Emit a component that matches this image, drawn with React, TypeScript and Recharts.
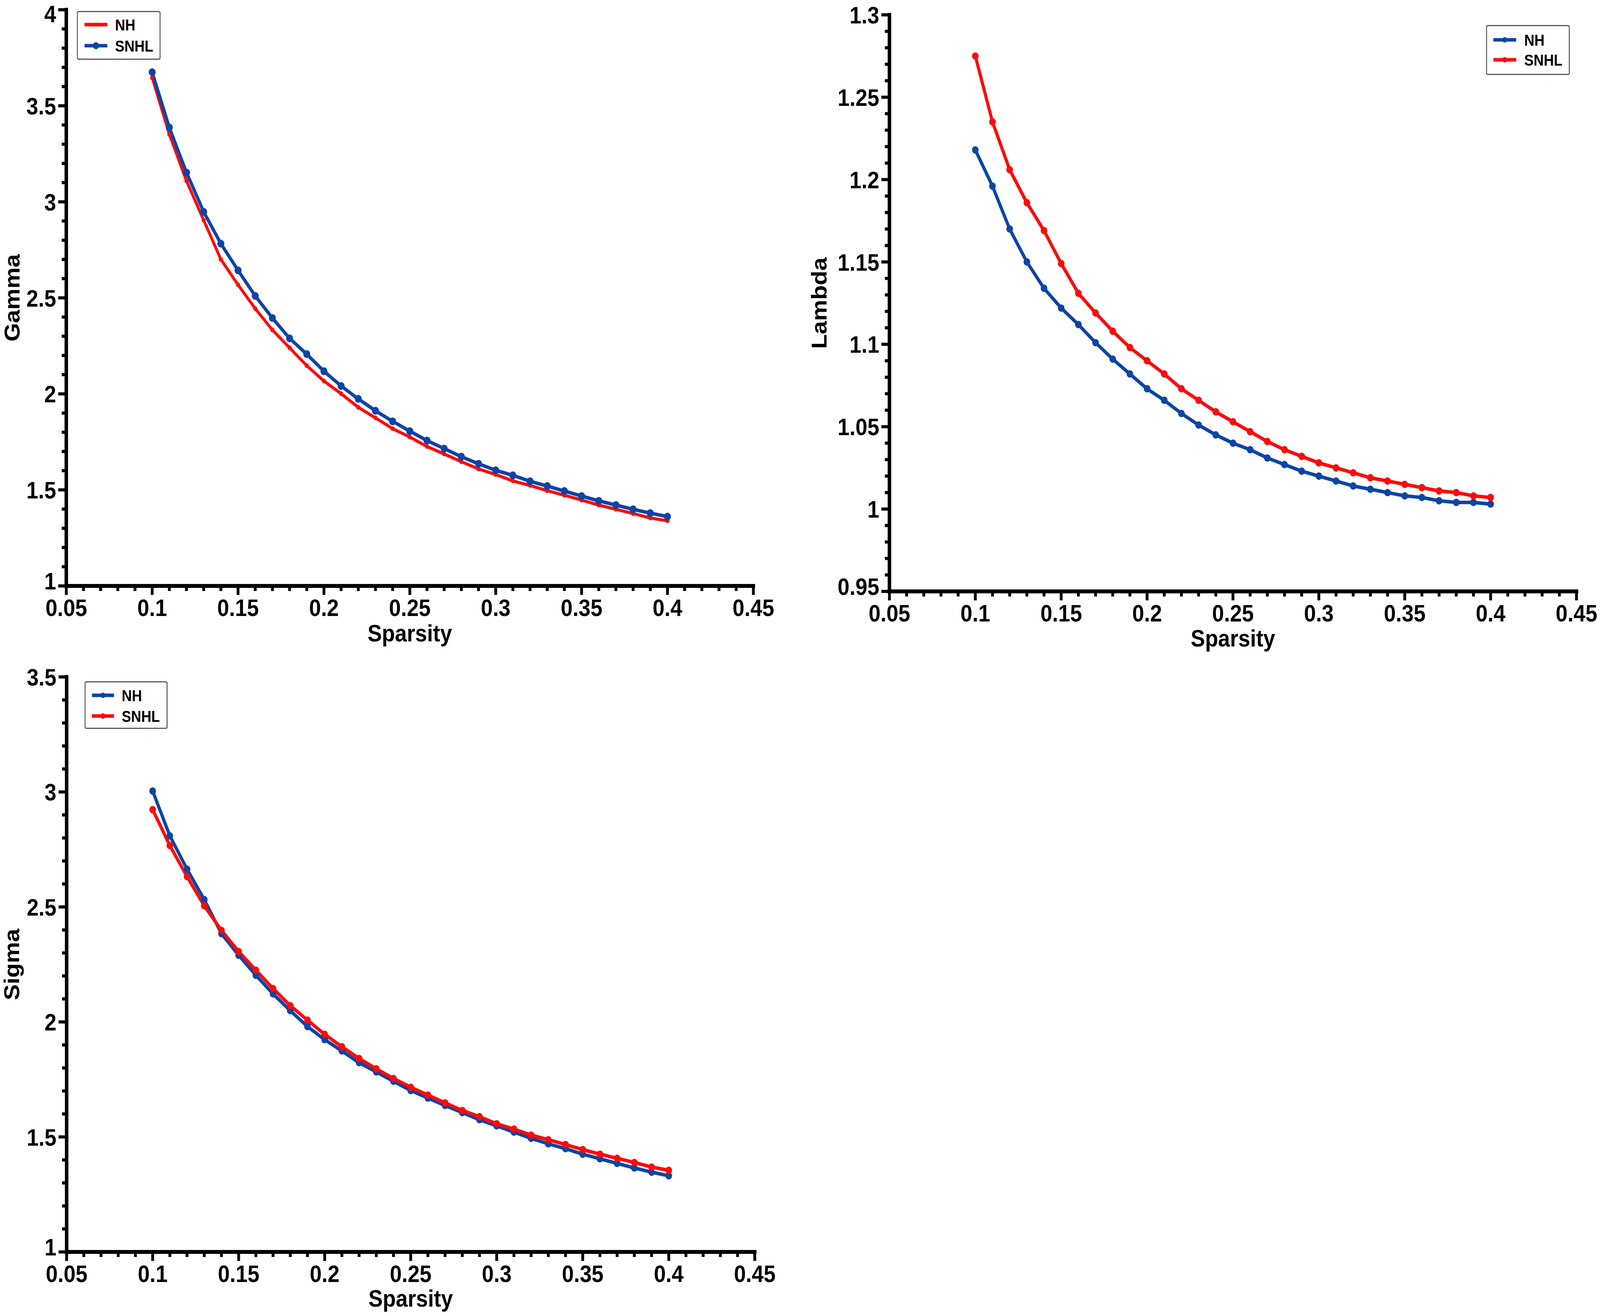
import React from 'react';
import { LineChart, Line, XAxis, YAxis, Legend } from 'recharts';

// sparsity levels (x values shared by every panel)
const sparsity = [
  0.1, 0.11, 0.12, 0.13, 0.14, 0.15, 0.16, 0.17, 0.18, 0.19, 0.2, 0.21, 0.22, 0.23, 0.24, 0.25,
  0.26, 0.27, 0.28, 0.29, 0.3, 0.31, 0.32, 0.33, 0.34, 0.35, 0.36, 0.37, 0.38, 0.39, 0.4,
];

const gammaNH = [
  3.646, 3.351, 3.108, 2.904, 2.7, 2.568, 2.444, 2.333, 2.24, 2.147, 2.067, 2.001, 1.93, 1.875, 1.819,
  1.775, 1.726, 1.687, 1.647, 1.609, 1.58, 1.547, 1.523, 1.496, 1.472, 1.447, 1.421, 1.399, 1.377,
  1.354, 1.339,
];
const gammaSNHL = [
  3.675, 3.387, 3.152, 2.948, 2.782, 2.643, 2.51, 2.395, 2.289, 2.207, 2.118, 2.041, 1.974, 1.912,
  1.857, 1.806, 1.757, 1.715, 1.673, 1.636, 1.602, 1.576, 1.545, 1.52, 1.494, 1.468, 1.443, 1.421,
  1.399, 1.379, 1.361,
];

const lambdaNH = [
  1.218, 1.196, 1.17, 1.15, 1.134, 1.122, 1.112, 1.101, 1.091, 1.082, 1.073, 1.066, 1.058, 1.051,
  1.045, 1.04, 1.036, 1.031, 1.027, 1.023, 1.02, 1.017, 1.014, 1.012, 1.01, 1.008, 1.007, 1.005,
  1.004, 1.004, 1.003,
];
const lambdaSNHL = [
  1.275, 1.235, 1.206, 1.186, 1.169, 1.149, 1.131, 1.119, 1.108, 1.098, 1.09, 1.082, 1.073, 1.066,
  1.059, 1.053, 1.047, 1.041, 1.036, 1.032, 1.028, 1.025, 1.022, 1.019, 1.017, 1.015, 1.013, 1.011,
  1.01, 1.008, 1.007,
];

const sigmaNH = [
  3.004, 2.809, 2.664, 2.532, 2.384, 2.29, 2.203, 2.122, 2.049, 1.98, 1.923, 1.874, 1.823, 1.783,
  1.742, 1.702, 1.669, 1.637, 1.606, 1.575, 1.548, 1.521, 1.494, 1.47, 1.449, 1.425, 1.405, 1.385,
  1.365, 1.347, 1.331,
];
const sigmaSNHL = [
  2.923, 2.767, 2.632, 2.505, 2.398, 2.306, 2.225, 2.145, 2.071, 2.008, 1.946, 1.892, 1.841, 1.796,
  1.754, 1.716, 1.682, 1.648, 1.615, 1.588, 1.557, 1.534, 1.508, 1.488, 1.467, 1.445, 1.425, 1.407,
  1.389, 1.369, 1.355,
];

// labelled ticks
const xLabels = [0.05, 0.1, 0.15, 0.2, 0.25, 0.3, 0.35, 0.4, 0.45];
const gammaLabels = [1, 1.5, 2, 2.5, 3, 3.5, 4];
const lambdaLabels = [0.95, 1, 1.05, 1.1, 1.15, 1.2, 1.25, 1.3];
const sigmaLabels = [1, 1.5, 2, 2.5, 3, 3.5];

const RED = '#fb0c0c';
const BLUE = '#0d44a6';
const FONT = '"Liberation Sans", Arial, Helvetica, sans-serif';

// the figure is laid out on the reference's 4562 x 3369 canvas
const FIG_W = 4562;
const FIG_H = 3369;

// minor tick positions between the labelled ones
function tickRange(lo: number, hi: number, step: number) {
  const out: number[] = [];
  const n = Math.round((hi - lo) / step);
  for (let i = 0; i <= n; i++) out.push(Math.round((lo + i * step) * 1000) / 1000);
  return out;
}

const isMajor = (v: number, majors: number[]) => majors.some((m) => Math.abs(m - v) < 1e-6);

function rows(nh: number[], snhl: number[]) {
  return sparsity.map((s, i) => ({ s, nh: nh[i], snhl: snhl[i] }));
}

function XTick(props: any) {
  const { x, y, payload, majors, labelDy } = props;
  const major = isMajor(payload.value, majors);
  return (
    <g>
      <line x1={x} x2={x} y1={y} y2={y + (major ? 23 : 13)} stroke="#000" strokeWidth={8} />
      {major && (
        <text
          x={x}
          y={y + labelDy}
          textAnchor="middle"
          dominantBaseline="central"
          fontFamily={FONT}
          fontWeight={700}
          fontSize={61}
          fill="#000"
        >
          {String(payload.value)}
        </text>
      )}
    </g>
  );
}

function YTick(props: any) {
  const { x, y, payload, majors, top } = props;
  const major = isMajor(payload.value, majors);
  const lo = Math.abs(payload.value - majors[0]) < 1e-6;
  // keep the top label inside the page, lift the bottom one clear of the x labels
  const ty = Math.max(y + (lo ? -12 : 1), 36 - top);
  return (
    <g>
      <line x1={x} x2={x - (major ? 23 : 13)} y1={y} y2={y} stroke="#000" strokeWidth={8} />
      {major && (
        <text
          x={x - 29}
          y={ty}
          textAnchor="end"
          dominantBaseline="central"
          fontFamily={FONT}
          fontWeight={700}
          fontSize={61}
          fill="#000"
        >
          {String(payload.value)}
        </text>
      )}
    </g>
  );
}

function XTitle(props: any) {
  const { viewBox, text, dy } = props;
  return (
    <text
      x={viewBox.x + viewBox.width / 2}
      y={viewBox.y + dy}
      textAnchor="middle"
      dominantBaseline="central"
      fontFamily={FONT}
      fontWeight={700}
      fontSize={61}
      fill="#000"
    >
      {text}
    </text>
  );
}

function YTitle(props: any) {
  const { viewBox, text, dx } = props;
  const cx = viewBox.x + viewBox.width - dx;
  const cy = viewBox.y + viewBox.height / 2;
  return (
    <text
      x={cx}
      y={cy}
      transform={`rotate(-90, ${cx}, ${cy})`}
      textAnchor="middle"
      dominantBaseline="central"
      fontFamily={FONT}
      fontWeight={700}
      fontSize={61}
      fill="#000"
    >
      {text}
    </text>
  );
}

type Item = { name: string; color: string; r: number };

function LegendBox({ items, w, h, rowY, lineX, textX }: any) {
  return (
    <svg width={w} height={h} style={{ display: 'block' }}>
      <rect x={1.5} y={1.5} width={w - 3} height={h - 3} rx={4} fill="#fff" stroke="#5a5a5a" strokeWidth={3} />
      {items.map((it: Item, i: number) => (
        <g key={it.name}>
          <line x1={lineX[0]} x2={lineX[1]} y1={rowY[i]} y2={rowY[i]} stroke={it.color} strokeWidth={9} />
          <circle cx={(lineX[0] + lineX[1]) / 2} cy={rowY[i]} r={it.r} fill={it.color} />
          <text
            x={textX}
            y={rowY[i] + 1}
            dominantBaseline="central"
            fontFamily={FONT}
            fontWeight={700}
            fontSize={40}
            fill="#000"
          >
            {it.name}
          </text>
        </g>
      ))}
    </svg>
  );
}

type PanelProps = {
  left: number;
  top: number;
  width: number;
  height: number;
  margin: { top: number; right: number; bottom: number; left: number };
  yWidth: number;
  xHeight: number;
  data: any[];
  yDomain: [number, number];
  yLabels: number[];
  yStep: number;
  yTitle: string;
  yTitleDx: number;
  xLabelDy: number;
  xTitleDy: number;
  nhColor: string;
  snhlColor: string;
  nhR: number;
  snhlR: number;
  nhWidth: number;
  legendR: number[];
  legendPos: { left: number; top: number; w: number; h: number; rowY: number[]; lineX: number[]; textX: number };
};

function Panel(p: PanelProps) {
  const xTicks = tickRange(0.05, 0.45, 0.01);
  const yTicks = tickRange(p.yDomain[0], p.yDomain[1], p.yStep);
  const items: Item[] = [
    { name: 'NH', color: p.nhColor, r: p.legendR[0] },
    { name: 'SNHL', color: p.snhlColor, r: p.legendR[1] },
  ];
  const lg = p.legendPos;
  const axisLine = { stroke: '#000', strokeWidth: 10, strokeLinecap: 'square' as const };
  return (
    <div style={{ position: 'absolute', left: p.left, top: p.top }}>
      <LineChart width={p.width} height={p.height} data={p.data} margin={p.margin}>
        <XAxis
          dataKey="s"
          type="number"
          domain={[0.05, 0.45]}
          ticks={xTicks}
          interval={0}
          height={p.xHeight}
          axisLine={axisLine}
          tickLine={false}
          tickSize={0}
          tickMargin={0}
          tick={(tp: any) => <XTick {...tp} majors={xLabels} labelDy={p.xLabelDy} />}
          label={<XTitle text="Sparsity" dy={p.xTitleDy} />}
        />
        <YAxis
          type="number"
          domain={p.yDomain}
          ticks={yTicks}
          interval={0}
          width={p.yWidth}
          axisLine={axisLine}
          tickLine={false}
          tickSize={0}
          tickMargin={0}
          tick={(tp: any) => <YTick {...tp} majors={p.yLabels} top={p.top} />}
          label={<YTitle text={p.yTitle} dx={p.yTitleDx} />}
        />
        <Legend
          layout="vertical"
          align="center"
          verticalAlign="middle"
          wrapperStyle={{ left: lg.left, top: lg.top, width: lg.w, height: lg.h }}
          content={() => (
            <LegendBox items={items} w={lg.w} h={lg.h} rowY={lg.rowY} lineX={lg.lineX} textX={lg.textX} />
          )}
        />
        <Line
          dataKey="nh"
          name="NH"
          type="linear"
          stroke={p.nhColor}
          strokeWidth={p.nhWidth}
          dot={{ r: p.nhR, fill: p.nhColor, stroke: p.nhColor, strokeWidth: 0 }}
          activeDot={false}
          isAnimationActive={false}
        />
        <Line
          dataKey="snhl"
          name="SNHL"
          type="linear"
          stroke={p.snhlColor}
          strokeWidth={9}
          dot={{ r: p.snhlR, fill: p.snhlColor, stroke: p.snhlColor, strokeWidth: 0 }}
          activeDot={false}
          isAnimationActive={false}
        />
      </LineChart>
    </div>
  );
}

export default function App() {
  // the browser window may be narrower than the figure; fit the figure to it
  const sx = typeof window !== 'undefined' ? Math.min(1, window.innerWidth / FIG_W) : 1;
  const sy = typeof window !== 'undefined' ? Math.min(1, window.innerHeight / FIG_H) : 1;
  return (
    <div
      style={{
        position: 'absolute',
        left: 0,
        top: 0,
        width: FIG_W,
        height: FIG_H,
        background: '#fff',
        transform: `scale(${sx}, ${sy})`,
        transformOrigin: '0 0',
      }}
    >
      <Panel
        left={0}
        top={0}
        width={2300}
        height={1720}
        margin={{ top: 25, right: 152, bottom: 20, left: 0 }}
        yWidth={189}
        xHeight={200}
        data={rows(gammaNH, gammaSNHL)}
        yDomain={[1, 4]}
        yLabels={gammaLabels}
        yStep={0.1}
        yTitle="Gamma"
        yTitleDx={154}
        xLabelDy={56}
        xTitleDy={121}
        nhColor={RED}
        snhlColor={BLUE}
        nhR={6}
        snhlR={10}
        nhWidth={8}
        legendR={[5, 9]}
        legendPos={{ left: 219, top: 28, w: 239, h: 125, rowY: [35, 89], lineX: [22, 87], textX: 109 }}
      />
      <Panel
        left={2300}
        top={0}
        width={2262}
        height={1720}
        margin={{ top: 38, right: 67, bottom: 6, left: 0 }}
        yWidth={236}
        xHeight={200}
        data={rows(lambdaNH, lambdaSNHL)}
        yDomain={[0.95, 1.3]}
        yLabels={lambdaLabels}
        yStep={0.01}
        yTitle="Lambda"
        yTitleDx={200}
        xLabelDy={56}
        xTitleDy={120}
        nhColor={BLUE}
        snhlColor={RED}
        nhR={9.5}
        snhlR={9.5}
        nhWidth={9}
        legendR={[7, 7]}
        legendPos={{ left: 1937, top: 64, w: 239, h: 128, rowY: [38, 89], lineX: [21, 86], textX: 109 }}
      />
      <Panel
        left={0}
        top={1700}
        width={2300}
        height={1669}
        margin={{ top: 33, right: 148, bottom: 4, left: 0 }}
        yWidth={190}
        xHeight={160}
        data={rows(sigmaNH, sigmaSNHL)}
        yDomain={[1, 3.5]}
        yLabels={sigmaLabels}
        yStep={0.1}
        yTitle="Sigma"
        yTitleDx={156}
        xLabelDy={56}
        xTitleDy={119}
        nhColor={BLUE}
        snhlColor={RED}
        nhR={9.5}
        snhlR={9.5}
        nhWidth={9}
        legendR={[7, 7]}
        legendPos={{ left: 241, top: 44, w: 237, h: 122, rowY: [36, 89], lineX: [21, 84], textX: 106 }}
      />
    </div>
  );
}
